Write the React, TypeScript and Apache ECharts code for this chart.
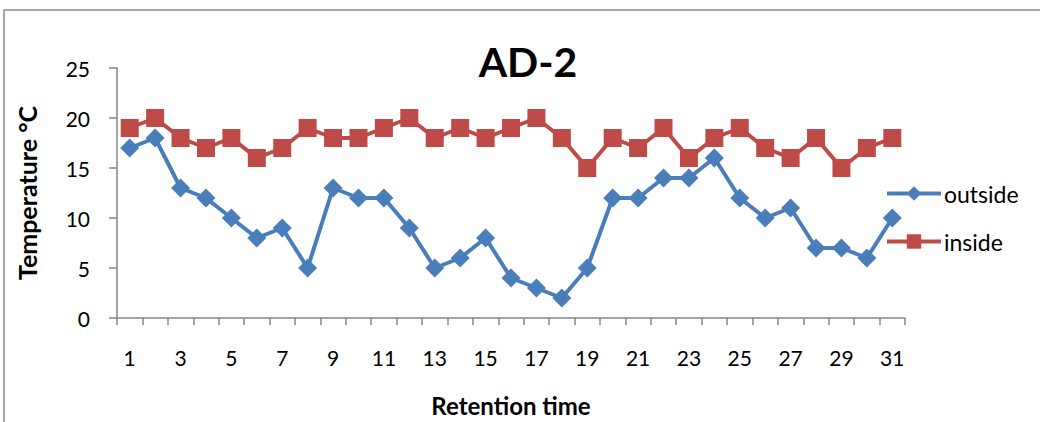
import React, { useEffect, useRef } from "react";
import * as echarts from "echarts";

const days = Array.from({ length: 31 }, (_, i) => String(i + 1));
const outside = [17, 18, 13, 12, 10, 8, 9, 5, 13, 12, 12, 9, 5, 6, 8, 4, 3, 2, 5, 12, 12, 14, 14, 16, 12, 10, 11, 7, 7, 6, 10];
const inside = [19, 20, 18, 17, 18, 16, 17, 19, 18, 18, 19, 20, 18, 19, 18, 19, 20, 18, 15, 18, 17, 19, 16, 18, 19, 17, 16, 18, 15, 17, 18];

const FONT = "Lato, 'Open Sans', sans-serif";
const AXIS = "#868686";

export default function App() {
  const ref = useRef<HTMLDivElement>(null);
  useEffect(() => {
    if (!ref.current) return;
    const chart = echarts.init(ref.current, null, { renderer: "svg" });
    chart.setOption({
      animation: false,
      backgroundColor: "#fff",
      textStyle: { fontFamily: FONT },
      title: {
        text: "AD-2",
        left: 523,
        top: 36,
        textAlign: "center",
        textStyle: { fontSize: 41, fontWeight: "bold", color: "#000", fontFamily: FONT },
      },
      graphic: [
        {
          type: "rect",
          shape: { x: 4, y: 10, width: 1100, height: 500 },
          style: { fill: "none", stroke: "#8c8c8c", lineWidth: 1.5 },
          silent: true,
        },
      ],
      legend: {
        orient: "vertical",
        left: 880,
        top: 177,
        itemWidth: 54,
        itemHeight: 18,
        itemGap: 25,
        lineStyle: { width: 4 },
        textStyle: { fontSize: 23, color: "#000", fontFamily: FONT, padding: [0, 0, 0, -2] },
        data: ["outside", "inside"],
      },
      grid: {
        left: 117,
        width: 788,
        top: 68,
        height: 250,
        containLabel: false,
        outerBoundsMode: "none",
      },
      xAxis: {
        type: "category",
        data: days,
        boundaryGap: true,
        name: "Retention time",
        nameLocation: "middle",
        nameGap: 75,
        nameTextStyle: { fontSize: 24, fontWeight: "bold", color: "#000", fontFamily: FONT },
        axisLine: { lineStyle: { color: AXIS, width: 1.5 } },
        axisTick: { show: true, interval: 0, length: 7, lineStyle: { color: AXIS, width: 1.5 } },
        axisLabel: { interval: 1, fontSize: 21, color: "#000", margin: 29, fontFamily: FONT },
      },
      yAxis: {
        type: "value",
        min: 0,
        max: 25,
        interval: 5,
        name: "Temperature °C",
        nameLocation: "middle",
        nameGap: 78,
        nameRotate: 90,
        nameTextStyle: { fontSize: 25, fontWeight: "bold", color: "#000", fontFamily: FONT },
        splitLine: { show: false },
        axisLine: { show: true, lineStyle: { color: AXIS, width: 1.5 } },
        axisTick: { show: true, length: 8, lineStyle: { color: AXIS, width: 1.5 } },
        axisLabel: { fontSize: 21, color: "#000", margin: 27, fontFamily: FONT },
      },
      series: [
        {
          name: "outside",
          type: "line",
          data: outside,
          symbol: "diamond",
          symbolSize: 19,
          showAllSymbol: true,
          lineStyle: { color: "#4A7EBB", width: 4 },
          itemStyle: { color: "#4A7EBB" },
        },
        {
          name: "inside",
          type: "line",
          data: inside,
          symbol: "rect",
          symbolSize: 18,
          showAllSymbol: true,
          lineStyle: { color: "#BE4B48", width: 4 },
          itemStyle: { color: "#BE4B48" },
        },
      ],
    });
    return () => chart.dispose();
  }, []);
  return (
    <div
      ref={ref}
      style={{ position: "fixed", left: 0, top: 0, width: 1040, height: 422 }}
    />
  );
}
